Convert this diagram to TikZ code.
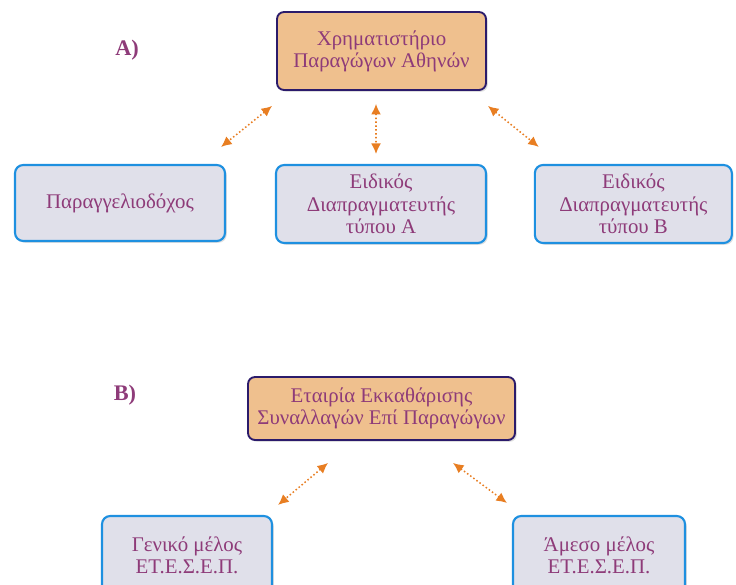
\documentclass[tikz,border=0pt]{standalone}
\usepackage{fontspec}
\setmainfont{Liberation Serif}
\usetikzlibrary{arrows.meta,
                calc,
                shadows}

\definecolor{textpurple}{HTML}{8E3B79}
\definecolor{peach}{HTML}{EFC08E}
\definecolor{navyline}{HTML}{2B1B6B}
\definecolor{greybox}{HTML}{E0E0EA}
\definecolor{blueline}{HTML}{1E90E0}
\definecolor{arroworange}{HTML}{E87E22}

\begin{document}
\begin{tikzpicture}[
    topbox/.style={draw=navyline, line width=1.6pt, fill=peach, rounded corners=6pt,
                   align=center, text=textpurple, inner sep=2pt,
                   drop shadow={shadow xshift=1.5pt, shadow yshift=-1.5pt, opacity=0.25}},
    lowbox/.style={draw=blueline, line width=1.8pt, fill=greybox, rounded corners=7pt,
                   align=center, text=textpurple, inner sep=2pt,
                   drop shadow={shadow xshift=1.5pt, shadow yshift=-1.5pt, opacity=0.25}},
    partlabel/.style={text=textpurple, font=\fontsize{19}{22}\selectfont\bfseries},
    link/.style={arroworange, line width=1.3pt, dotted, {Latex[length=9pt,width=8.5pt]}-{Latex[length=9pt,width=8.5pt]}},
    font=\fontsize{17.8}{19}\selectfont
]
    \useasboundingbox (0,0) rectangle (22.08,-17.55);

    % A) athens exchange
    \node[partlabel] (labA) at (3.81,-1.5) {A)};
    \node[topbox, minimum width=6.27cm, minimum height=2.34cm] (xaa) at (11.445,-1.53)
        {Χρηματιστήριο\\Παραγώγων Αθηνών};
    \node[lowbox, minimum width=6.3cm, minimum height=2.28cm] (paragg) at (3.6,-6.09)
        {Παραγγελιοδόχος};
    \node[lowbox, minimum width=6.3cm, minimum height=2.34cm] (eidA) at (11.43,-6.12)
        {Ειδικός\\Διαπραγματευτής\\τύπου Α};
    \node[lowbox, minimum width=5.91cm, minimum height=2.34cm] (eidB) at (19.0,-6.12)
        {Ειδικός\\Διαπραγματευτής\\τύπου Β};

    \draw[link] ([shift={(-0.12,-0.45)}]xaa.south west) -- ([shift={(-0.15,0.51)}]paragg.north east);
    \draw[link] ([shift={(-0.165,-0.39)}]xaa.south) -- ([shift={(-0.15,0.3)}]eidA.north);
    \draw[link] ([shift={(0.03,-0.45)}]xaa.south east) -- ([shift={(0.15,0.51)}]eidB.north west);

    % B) clearing house
    \node[partlabel] (labB) at (3.75,-11.85) {B)};
    \node[topbox, minimum width=8.01cm, minimum height=1.89cm] (eteseP) at (11.445,-12.255)
        {Εταιρία Εκκαθάρισης\\Συναλλαγών Επί Παραγώγων};
    \node[lowbox, minimum width=5.1cm, minimum height=2.34cm] (geniko) at (5.61,-16.65)
        {Γενικό μέλος\\ΕΤ.Ε.Σ.Ε.Π.};
    \node[lowbox, minimum width=5.16cm, minimum height=2.34cm] (ameso) at (17.97,-16.65)
        {Άμεσο μέλος\\ΕΤ.Ε.Σ.Ε.Π.};

    \draw[link] ([shift={(-1.605,-0.66)}]eteseP.south) -- ([shift={(0.15,0.3)}]geniko.north east);
    \draw[link] ([shift={(2.145,-0.66)}]eteseP.south) -- ([shift={(-0.15,0.36)}]ameso.north west);
\end{tikzpicture}
\end{document}
